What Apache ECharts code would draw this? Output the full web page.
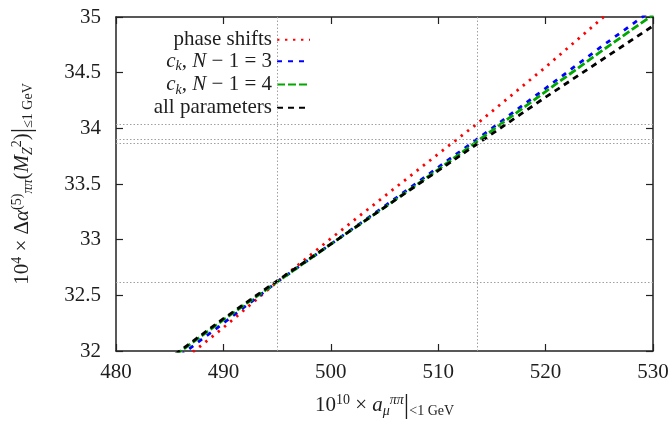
<!DOCTYPE html>
<html>
<head>
<meta charset="utf-8">
<script src="https://cdn.jsdelivr.net/npm/echarts@6/dist/echarts.min.js"></script>
<style>html,body{margin:0;padding:0;background:#fff}#c{width:670px;height:423px}</style>
</head>
<body>
<div id="c"></div>
<script>
// ---- data ----
var seriesNames = ['phase shifts', 'ck, N-1=3', 'ck, N-1=4', 'all parameters'];
var phaseX = [486.0, 490, 495, 500, 505, 510, 513.6, 520, 525.4, 527];
var phaseY = [31.90, 32.21, 32.62, 33.01, 33.39, 33.77, 34.04, 34.55, 35.00, 35.13];
var ck3X = [486.0, 490, 495, 500, 505, 510, 515, 520, 525, 529, 531];
var ck3Y = [31.96, 32.25, 32.62, 32.96, 33.30, 33.65, 34.00, 34.36, 34.72, 35.00, 35.14];
var ck4X = [485.5, 490, 495, 500, 505, 510, 515, 520, 525, 530];
var ck4Y = [31.96, 32.28, 32.62, 32.96, 33.29, 33.63, 33.98, 34.33, 34.68, 35.02];
var allX = [485.5, 490, 495, 500, 505, 510, 515, 520, 525, 530];
var allY = [31.97, 32.29, 32.63, 32.96, 33.29, 33.62, 33.95, 34.28, 34.60, 34.92];
var refX = [495.0, 513.6];
var refY = [32.62, 33.87, 33.90, 34.04];
var xTicks = [480, 490, 500, 510, 520, 530];
var yTicks = [32, 32.5, 33, 33.5, 34, 34.5, 35];

function pairs(xs, ys) { return xs.map(function (x, i) { return [x, ys[i]]; }); }

var FONT = 'Liberation Serif';
var TXT = '#1e1e1e';
var rich = {
  t: { fontFamily: FONT, fontSize: 21, color: TXT },
  i: { fontFamily: FONT, fontSize: 21, fontStyle: 'italic', color: TXT },
  sub: { fontFamily: FONT, fontSize: 14, color: TXT, padding: [11, 0, 0, 0] },
  subi: { fontFamily: FONT, fontSize: 14, fontStyle: 'italic', color: TXT, padding: [11, 0, 0, 0] },
  sup: { fontFamily: FONT, fontSize: 14, color: TXT, padding: [0, 0, 11, 0] },
  supi: { fontFamily: FONT, fontSize: 14, fontStyle: 'italic', color: TXT, padding: [0, 0, 11, 0] },
  bar: { fontFamily: FONT, fontSize: 27, color: TXT }
};

var legendLabels = {
  'phase shifts': '{t|phase shifts}',
  'ck, N-1=3': '{i|c}{subi|k}{t|, }{i|N}{t| \u2212 1 = 3}',
  'ck, N-1=4': '{i|c}{subi|k}{t|, }{i|N}{t| \u2212 1 = 4}',
  'all parameters': '{t|all parameters}'
};

var axisLine = { show: true, onZero: false, lineStyle: { color: '#222', width: 1.5 } };
var tick = { show: true, inside: true, length: 7, lineStyle: { color: '#222', width: 1.2 } };

var chart = echarts.init(document.getElementById('c'), null, { renderer: 'canvas' });
chart.setOption({
  animation: false,
  backgroundColor: '#fff',
  grid: { left: 116, right: 17, top: 17, bottom: 72, containLabel: false, outerBoundsMode: 'none' },
  legend: {
    orient: 'vertical', right: 354, top: 24, align: 'right',
    itemWidth: 33, itemHeight: 12, itemGap: 0,
    data: seriesNames,
    itemStyle: { opacity: 0 },
    formatter: function (n) { return legendLabels[n]; },
    textStyle: { fontFamily: FONT, fontSize: 21, color: TXT, lineHeight: 21.5, rich: rich }
  },
  xAxis: [{
    type: 'value', min: xTicks[0], max: xTicks[xTicks.length - 1], interval: 10,
    axisLine: axisLine, axisTick: tick, splitLine: { show: false },
    axisLabel: { margin: 11, fontFamily: FONT, fontSize: 21, color: TXT },
    name: '{t|10}{sup|10}{t| \u00d7 }{i|a}{subi|\u03bc}{supi|\u03c0\u03c0}{bar||}{sub|<1 GeV}',
    nameLocation: 'middle', nameGap: 41,
    nameTextStyle: { rich: rich }
  }, {
    type: 'value', position: 'top', min: xTicks[0], max: xTicks[xTicks.length - 1], interval: 10,
    axisLine: axisLine, axisTick: tick, axisLabel: { show: false }, splitLine: { show: false }
  }],
  yAxis: [{
    type: 'value', min: yTicks[0], max: yTicks[yTicks.length - 1], interval: 0.5,
    axisLine: axisLine, axisTick: tick, splitLine: { show: false },
    axisLabel: { margin: 15, fontFamily: FONT, fontSize: 21, color: TXT },
    name: '{t|10}{sup|4}{t| \u00d7 \u0394}{i|\u03b1}{sup|(5)}{subi|\u03c0\u03c0}{t|(}{i|M}{subi|Z}{sup|2}{t|)}{bar||}{sub|\u22641 GeV}',
    nameLocation: 'middle', nameRotate: 90, nameGap: 80,
    nameTextStyle: { rich: rich }
  }, {
    type: 'value', position: 'right', min: yTicks[0], max: yTicks[yTicks.length - 1], interval: 0.5,
    axisLine: axisLine, axisTick: tick, axisLabel: { show: false }, splitLine: { show: false }
  }],
  series: [{
    name: 'ref', type: 'line', data: [], silent: true,
    markLine: {
      silent: true, symbol: ['none', 'none'], label: { show: false },
      lineStyle: { color: '#a0a0a0', width: 1, type: [1.5, 2] },
      emphasis: { disabled: true },
      data: refX.map(function (v) { return { xAxis: v }; }).concat(refY.map(function (v) { return { yAxis: v }; }))
    }
  }, {
    name: seriesNames[0], type: 'line', showSymbol: false, symbol: 'none', clip: true,
    data: pairs(phaseX, phaseY),
    lineStyle: { color: '#ff0000', width: 2.8, type: [2.4, 5.6] }, itemStyle: { color: '#ff0000' }
  }, {
    name: seriesNames[1], type: 'line', showSymbol: false, symbol: 'none', clip: true,
    data: pairs(ck3X, ck3Y),
    lineStyle: { color: '#0000ff', width: 2.8, type: [5, 6] }, itemStyle: { color: '#0000ff' }
  }, {
    name: seriesNames[2], type: 'line', showSymbol: false, symbol: 'none', clip: true,
    data: pairs(ck4X, ck4Y),
    lineStyle: { color: '#00a800', width: 2.8, type: [8, 3] }, itemStyle: { color: '#00a800' }
  }, {
    name: seriesNames[3], type: 'line', showSymbol: false, symbol: 'none', clip: true,
    data: pairs(allX, allY),
    lineStyle: { color: '#000000', width: 2.8, type: [6, 5] }, itemStyle: { color: '#000000' }
  }]
});
</script>
</body>
</html>
